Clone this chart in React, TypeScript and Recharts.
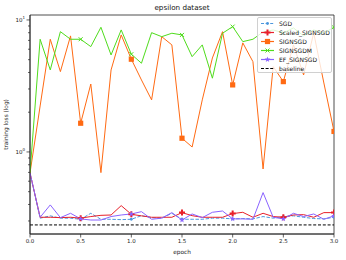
import React from 'react';
import { ComposedChart, Line, XAxis, YAxis, ReferenceLine, ReferenceArea } from 'recharts';

const epochs = [0.0, 0.1, 0.2, 0.3, 0.4, 0.5, 0.6, 0.7, 0.8, 0.9, 1.0, 1.1, 1.2, 1.3, 1.4, 1.5, 1.6, 1.7, 1.8, 1.9, 2.0, 2.1, 2.2, 2.3, 2.4, 2.5, 2.6, 2.7, 2.8, 2.9, 3.0];

const sgd = [0.693, 0.315, 0.328, 0.315, 0.315, 0.309, 0.343, 0.309, 0.309, 0.307, 0.309, 0.329, 0.318, 0.315, 0.343, 0.309, 0.309, 0.309, 0.315, 0.315, 0.311, 0.313, 0.311, 0.324, 0.315, 0.324, 0.328, 0.32, 0.313, 0.311, 0.32];
const scaledSignSgd = [0.693, 0.32, 0.32, 0.318, 0.32, 0.315, 0.324, 0.331, 0.333, 0.392, 0.337, 0.328, 0.32, 0.32, 0.32, 0.347, 0.329, 0.32, 0.32, 0.32, 0.341, 0.349, 0.32, 0.343, 0.324, 0.32, 0.333, 0.335, 0.32, 0.347, 0.347];
const signSgd = [0.693, 2.23, 7.14, 4.06, 7.57, 1.65, 3.27, 0.697, 4.18, 7.7, 5.04, 3.51, 2.48, 7.47, 6.47, 1.27, 1.09, 2.48, 5.15, 8.15, 3.22, 6.7, 4.83, 0.743, 4.43, 3.41, 6.47, 3.83, 7.97, 3.33, 1.43];
const signSgdm = [0.693, 7.14, 4.18, 8.15, 7.14, 7.14, 6.28, 8.8, 5.43, 8.4, 5.5, 4.7, 8.01, 7.47, 7.93, 7.7, 5.27, 6.47, 3.62, 7.93, 8.9, 6.85, 7.14, 8.11, 8.4, 7.97, 8.7, 7.57, 8.4, 7.97, 8.8];
const efSignSgd = [0.693, 0.32, 0.397, 0.318, 0.343, 0.311, 0.305, 0.305, 0.324, 0.333, 0.339, 0.353, 0.309, 0.315, 0.347, 0.305, 0.339, 0.318, 0.349, 0.357, 0.311, 0.311, 0.309, 0.492, 0.32, 0.311, 0.343, 0.324, 0.339, 0.309, 0.328];
const baseline = 0.28;

const xTicks = [0, 0.5, 1.0, 1.5, 2.0, 2.5, 3.0];
const yTicks = [0.3, 0.4, 0.5, 0.6, 0.7, 0.8, 0.9, 1, 2, 3, 4, 5, 6, 7, 8, 9, 10];
const yDomain = [0.239, 10.9];

const C_SGD = '#4c97dd';
const C_SCALED = '#e8202a';
const C_SIGN = '#ff6a13';
const C_SIGNM = '#4fdc1c';
const C_EF = '#8a63ff';

const data = epochs.map((e, i) => ({
  epoch: e,
  sgd: sgd[i],
  scaled: scaledSignSgd[i],
  sign: signSgd[i],
  signm: signSgdm[i],
  ef: efSignSgd[i],
}));

const FONT = 'DejaVu Sans, sans-serif';

type MarkerKind = 'dot' | 'plus' | 'square' | 'x' | 'star';

function Marker({ kind, cx, cy, color }: { kind: MarkerKind; cx: number; cy: number; color: string }) {
  if (kind === 'dot') return <circle cx={cx} cy={cy} r={1.4} fill={color} />;
  if (kind === 'square') return <rect x={cx - 2.6} y={cy - 2.6} width={5.2} height={5.2} fill={color} />;
  if (kind === 'plus') {
    const a = 3, w = 1;
    const d = `M${cx - w},${cy - a}H${cx + w}V${cy - w}H${cx + a}V${cy + w}H${cx + w}V${cy + a}H${cx - w}V${cy + w}H${cx - a}V${cy - w}H${cx - w}Z`;
    return <path d={d} fill={color} />;
  }
  if (kind === 'x') {
    const a = 2;
    return <path d={`M${cx - a},${cy - a}L${cx + a},${cy + a}M${cx - a},${cy + a}L${cx + a},${cy - a}`} stroke={color} strokeWidth={1} />;
  }
  const pts: string[] = [];
  for (let k = 0; k < 10; k++) {
    const r = k % 2 === 0 ? 3 : 1.2;
    const ang = -Math.PI / 2 + (k * Math.PI) / 5;
    pts.push(`${cx + r * Math.cos(ang)},${cy + r * Math.sin(ang)}`);
  }
  return <polygon points={pts.join(' ')} fill={color} />;
}

const makeDot = (kind: MarkerKind, color: string) => (props: any) => {
  const { cx, cy, index } = props;
  if (index === 0 || index % 5 !== 0 || cx == null || cy == null) return <g key={`d${kind}${index}`} />;
  return (
    <g key={`d${kind}${index}`}>
      <Marker kind={kind} cx={cx} cy={cy} color={color} />
    </g>
  );
};

const YTick = (props: any) => {
  const { x, y, payload } = props;
  const v = payload.value;
  const major = v === 1 || v === 10;
  return (
    <g>
      <line x1={x - (major ? 3.5 : 2)} x2={x} y1={y} y2={y} stroke="#222" strokeWidth={0.7} />
      {major && (
        <text x={x - 5} y={y} dy={2} textAnchor="end" fontSize={5.5} fontFamily={FONT} fill="#222">
          10
          <tspan dy={-2.6} fontSize={4}>{v === 1 ? '0' : '1'}</tspan>
        </text>
      )}
    </g>
  );
};

const legendItems: { label: string; color: string; kind: MarkerKind | null; dash: boolean }[] = [
  { label: 'SGD', color: C_SGD, kind: 'dot', dash: true },
  { label: 'Scaled_SIGNSGD', color: C_SCALED, kind: 'plus', dash: false },
  { label: 'SIGNSGD', color: C_SIGN, kind: 'square', dash: false },
  { label: 'SIGNSGDM', color: C_SIGNM, kind: 'x', dash: false },
  { label: 'EF_SIGNSGD', color: C_EF, kind: 'star', dash: false },
  { label: 'baseline', color: '#000', kind: null, dash: true },
];

export default function App() {
  return (
    <div style={{ position: 'absolute', left: 0, top: 0, width: 346, height: 260, background: '#fff', fontFamily: FONT }}>
      <div style={{ position: 'absolute', left: 0, top: 3, width: 364, textAlign: 'center', fontSize: 7.2, color: '#111' }}>
        epsilon dataset
      </div>
      <ComposedChart width={346} height={260} data={data} margin={{ top: 15, right: 12, bottom: 0, left: 0 }}>
        <ReferenceArea x1={0} x2={3} y1={yDomain[0]} y2={yDomain[1]} fill="none" fillOpacity={0} stroke="#222" strokeWidth={0.8} ifOverflow="visible" />
        <XAxis
          dataKey="epoch"
          type="number"
          domain={[0, 3]}
          ticks={xTicks}
          tickFormatter={(v: number) => v.toFixed(1)}
          tick={{ fontSize: 5.5, fill: '#222', fontFamily: FONT }}
          tickSize={3.5}
          tickMargin={1.5}
          tickLine={{ stroke: '#222', strokeWidth: 0.7 }}
          axisLine={{ stroke: '#222', strokeWidth: 0.8 }}
          height={26}
          allowDataOverflow
          label={{ value: 'epoch', position: 'insideBottom', offset: 6, fontSize: 5.8, fill: '#222', fontFamily: FONT }}
        />
        <YAxis
          type="number"
          scale="log"
          domain={yDomain}
          allowDataOverflow
          ticks={yTicks}
          interval={0}
          tick={<YTick />}
          tickLine={false}
          tickSize={0}
          tickMargin={0}
          axisLine={{ stroke: '#222', strokeWidth: 0.8 }}
          width={30}
          label={{ value: 'training loss (log)', angle: -90, position: 'insideLeft', offset: 6, fontSize: 5.8, fill: '#222', fontFamily: FONT, style: { textAnchor: 'middle' } }}
        />
        <ReferenceLine y={baseline} stroke="#000" strokeWidth={1} strokeDasharray="3 1.8" />
        <Line dataKey="sgd" stroke={C_SGD} strokeWidth={1} strokeDasharray="3.5 1.6" dot={makeDot('dot', C_SGD)} isAnimationActive={false} />
        <Line dataKey="scaled" stroke={C_SCALED} strokeWidth={1} dot={makeDot('plus', C_SCALED)} isAnimationActive={false} />
        <Line dataKey="sign" stroke={C_SIGN} strokeWidth={1} dot={makeDot('square', C_SIGN)} isAnimationActive={false} />
        <Line dataKey="signm" stroke={C_SIGNM} strokeWidth={1} dot={makeDot('x', C_SIGNM)} isAnimationActive={false} />
        <Line dataKey="ef" stroke={C_EF} strokeWidth={1} dot={makeDot('star', C_EF)} isAnimationActive={false} />
      </ComposedChart>
      <div
        style={{
          position: 'absolute',
          left: 257,
          top: 17,
          width: 75,
          height: 56,
          boxSizing: 'border-box',
          background: 'rgba(255,255,255,0.8)',
          border: '0.8px solid #d0d0d0',
          borderRadius: 2,
          padding: '1px 0 0 2px',
        }}
      >
        {legendItems.map((it) => (
          <div key={it.label} style={{ display: 'flex', alignItems: 'center', height: 9, fontSize: 6, color: '#111', lineHeight: '9px' }}>
            <svg width={16} height={9} style={{ flex: 'none' }}>
              <line x1={1} x2={14} y1={4.5} y2={4.5} stroke={it.color} strokeWidth={1.2} strokeDasharray={it.dash ? '3 1.6' : undefined} />
              {it.kind && <Marker kind={it.kind} cx={7.5} cy={4.5} color={it.color} />}
            </svg>
            <span style={{ marginLeft: 3, whiteSpace: 'nowrap' }}>{it.label}</span>
          </div>
        ))}
      </div>
    </div>
  );
}
